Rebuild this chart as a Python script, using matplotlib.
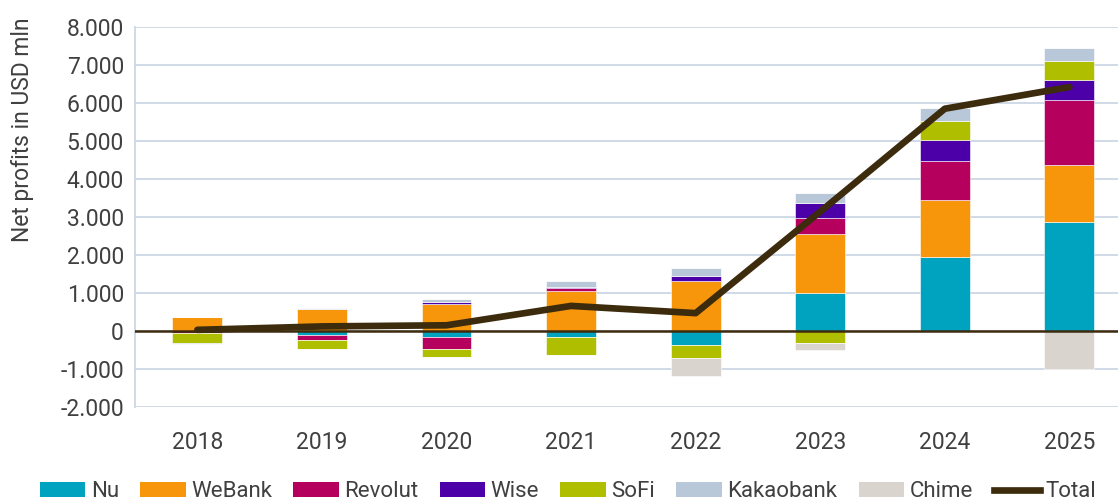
import matplotlib
matplotlib.use("Agg")
import matplotlib.pyplot as plt
import numpy as np
from matplotlib.ticker import FuncFormatter, MultipleLocator
from matplotlib.patches import Patch
from matplotlib.lines import Line2D

years = ["2018", "2019", "2020", "2021", "2022", "2023", "2024", "2025"]
series_names = ["Nu", "WeBank", "Revolut", "Wise", "SoFi", "Kakaobank", "Chime"]
nu = [0, -110, -170, -170, -370, 1000, 1950, 2860]
webank = [360, 570, 710, 1040, 1320, 1560, 1510, 1510]
revolut = [-60, -130, -310, 80, 0, 410, 1020, 1720]
wise = [0, 0, 40, 40, 135, 400, 540, 510]
sofi = [-260, -240, -200, -470, -350, -310, 510, 510]
kakaobank = [-30, 30, 80, 150, 195, 270, 330, 340]
chime = [0, 0, 0, 0, -460, -200, 0, -1000]
total = [30, 120, 150, 660, 470, 3140, 5850, 6420]

colors = ["#00a3bf", "#f7960a", "#b5005e", "#4b00a8", "#b0be00", "#b8c8d8", "#d9d5ce"]
line_color = "#3d2b0e"
text_color = "#404040"

plt.rcParams['font.family'] = ['Roboto', 'DejaVu Sans']

fig = plt.figure(figsize=(11.18, 5.04), dpi=100)
ax = fig.add_axes([0.1208, 0.1925, 0.8792, 0.7539])

x = np.arange(len(years))
data = [nu, webank, revolut, wise, sofi, kakaobank, chime]
pos_base = np.zeros(len(years))
neg_base = np.zeros(len(years))
width = 0.4
for vals, c in zip(data, colors):
    v = np.array(vals, dtype=float)
    pos = np.where(v > 0, v, 0)
    neg = np.where(v < 0, v, 0)
    ax.bar(x, pos, width, bottom=pos_base, color=c, edgecolor="white", linewidth=0.4, zorder=2)
    ax.bar(x, neg, width, bottom=neg_base, color=c, edgecolor="white", linewidth=0.4, zorder=2)
    pos_base += pos
    neg_base += neg

ax.axhline(0, color=line_color, linewidth=1.8, zorder=3)
ax.plot(x, total, color=line_color, linewidth=4.8, zorder=4, solid_capstyle='round')

ax.set_ylim(-2000, 8000)
ax.set_xlim(-0.5, 7.39)
ax.yaxis.set_major_locator(MultipleLocator(1000))
ax.yaxis.set_major_formatter(FuncFormatter(lambda v, p: f"{v:,.0f}".replace(",", ".")))
ax.grid(axis='y', color="#c8d4e3", linewidth=1.2, zorder=0)
ax.set_axisbelow(True)
ax.set_xticks(x)
ax.set_xticklabels(years)
for s in ["top", "right", "bottom"]:
    ax.spines[s].set_visible(False)
ax.spines["left"].set_color("#c8d4e3")
ax.spines["left"].set_linewidth(1.2)
ax.tick_params(axis='both', length=0, labelsize=16.5, colors=text_color)
ax.tick_params(axis='x', pad=17)
ax.tick_params(axis='y', pad=8)
ax.set_ylabel("Net profits in USD mln", fontsize=16.5, color=text_color)
ax.yaxis.set_label_coords(-0.103, 0.73)

handles = [Patch(facecolor=c, edgecolor='none') for c in colors]
handles.append(Line2D([0], [0], color=line_color, linewidth=4.8))
labels = series_names + ["Total"]
fig.legend(handles, labels, loc='center', bbox_to_anchor=(0.508, 0.024), ncol=8,
           frameon=False, fontsize=16, handlelength=2.05, handleheight=0.7,
           handletextpad=0.25, columnspacing=0.95, labelcolor=text_color)

fig.savefig("out.png", dpi=100)
